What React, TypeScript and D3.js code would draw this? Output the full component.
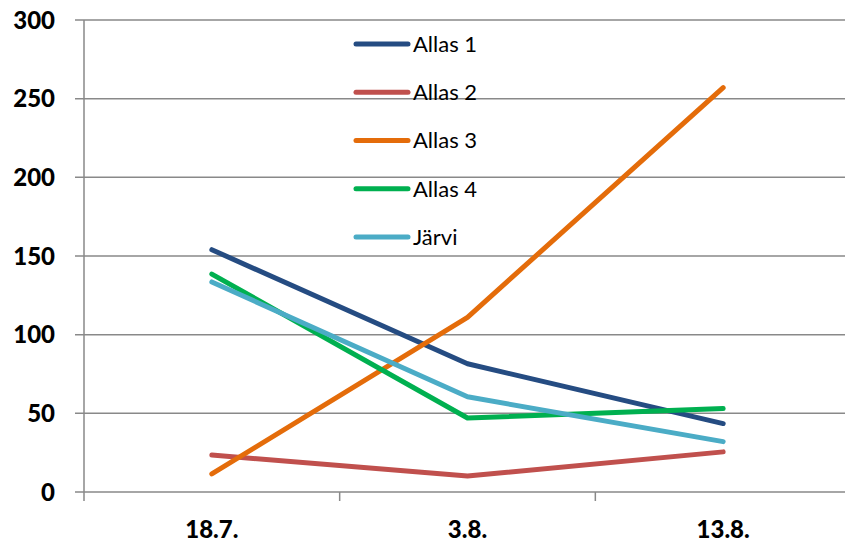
import React from "react";
import * as d3 from "d3";

const categories = ["18.7.", "3.8.", "13.8."];
const seriesNames = ["Allas 1", "Allas 2", "Allas 3", "Allas 4", "Järvi"];
const allas1 = [154, 81.5, 43.5];
const allas2 = [23.5, 10.2, 25.5];
const allas3 = [11.5, 111, 257];
const allas4 = [138.5, 47, 53];
const jarvi = [133.5, 60.5, 32];
const yTicks = [0, 50, 100, 150, 200, 250, 300];
const colors = ["#254C82", "#C0504D", "#E46C0A", "#00B050", "#4BACC6"];

const W = 845;
const H = 546;
const left = 84;
const top = 20;
const bottom = 492;
const right = 851;

export default function App() {
  const values = [allas1, allas2, allas3, allas4, jarvi];
  const x = d3.scaleBand<string>().domain(categories).range([left, right]).padding(0);
  const y = d3.scaleLinear().domain([0, 300]).range([bottom, top]);
  const line = d3
    .line<number>()
    .x((_, i) => (x(categories[i]) as number) + x.bandwidth() / 2)
    .y((d) => y(d));
  const font = "Lato, 'Open Sans', sans-serif";
  const legendY = d3.scalePoint<string>().domain(seriesNames).range([44, 237]);
  return (
    <svg
      width={W}
      height={H}
      style={{ position: "absolute", left: 0, top: 0, background: "#fff" }}
    >
      {yTicks.map((t) => (
        <g key={t}>
          <line x1={75} x2={right} y1={y(t)} y2={y(t)} stroke="#898989" strokeWidth={1.5} />
          <text
            x={55}
            y={y(t)}
            dy="0.36em"
            textAnchor="end"
            fontFamily={font}
            fontWeight="900"
            fontSize={24}
            fill="#000"
          >
            {t}
          </text>
        </g>
      ))}
      <line x1={left} x2={left} y1={top} y2={bottom + 9} stroke="#898989" strokeWidth={1.5} />
      {categories.map((c, i) => (
        <g key={c}>
          <line
            x1={(x(c) as number) + x.bandwidth()}
            x2={(x(c) as number) + x.bandwidth()}
            y1={bottom}
            y2={bottom + 9}
            stroke="#898989"
            strokeWidth={1.5}
          />
          <text
            x={(x(c) as number) + x.bandwidth() / 2}
            y={538}
            textAnchor="middle"
            fontFamily={font}
            fontWeight="900"
            fontSize={24}
            fill="#000"
          >
            {c}
          </text>
        </g>
      ))}
      {values.map((v, i) => (
        <path
          key={seriesNames[i]}
          d={line(v) || ""}
          fill="none"
          stroke={colors[i]}
          strokeWidth={5}
          strokeLinecap="round"
          strokeLinejoin="round"
        />
      ))}
      {seriesNames.map((n, i) => (
        <g key={n}>
          <line
            x1={356}
            x2={408}
            y1={legendY(n)}
            y2={legendY(n)}
            stroke={colors[i]}
            strokeWidth={5}
            strokeLinecap="round"
          />
          <text
            x={413}
            y={legendY(n)}
            dy="0.36em"
            fontFamily={font}
            fontSize={22}
            fill="#000"
          >
            {n}
          </text>
        </g>
      ))}
    </svg>
  );
}
